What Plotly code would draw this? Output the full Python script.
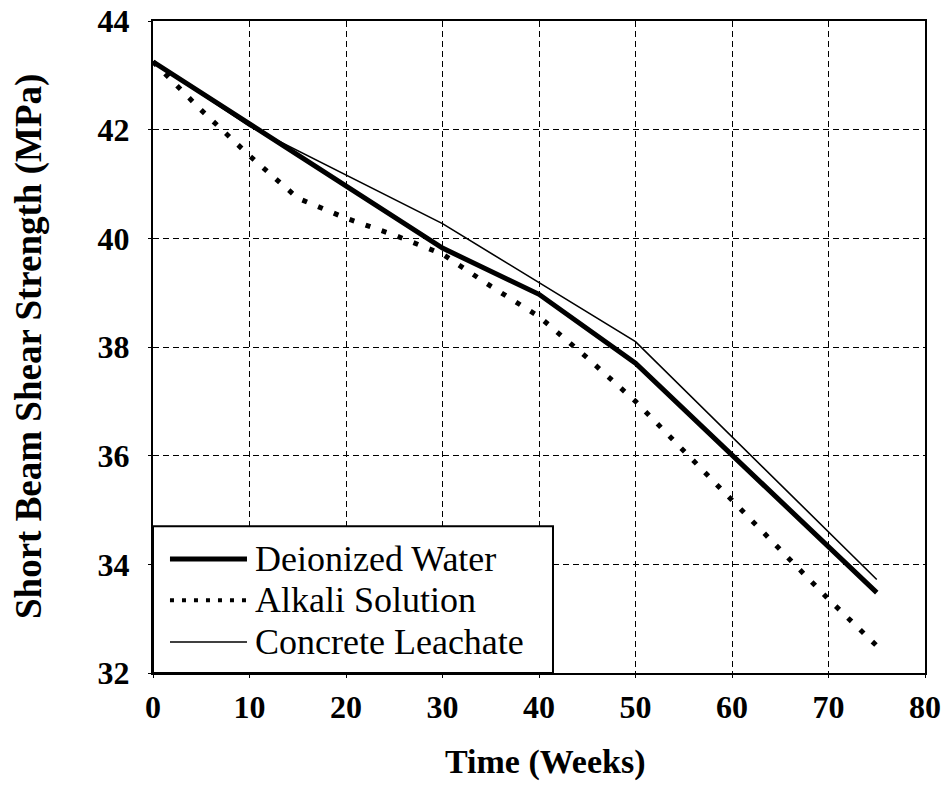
import plotly.graph_objects as go

# ---- data ----
weeks_dw = [0, 30, 40, 50, 75]
strength_dw = [43.25, 39.82, 38.97, 37.70, 33.48]

weeks_alk = [0, 5, 10, 15, 20, 25, 30, 35, 40, 45, 50, 55, 60, 65, 70, 75]
strength_alk = [43.25, 42.36, 41.52, 40.74, 40.37, 40.06, 39.71, 39.12,
                38.56, 37.80, 37.00, 36.10, 35.17, 34.27, 33.36, 32.50]

weeks_cl = [0, 10, 30, 40, 50, 75]
strength_cl = [43.25, 42.06, 40.27, 39.19, 38.10, 33.72]

series_names = ["Deionized Water", "Alkali Solution", "Concrete Leachate"]
x_ticks = [0, 10, 20, 30, 40, 50, 60, 70, 80]
y_ticks = [32, 34, 36, 38, 40, 42, 44]

SERIF = "Liberation Serif, Times New Roman, serif"

fig = go.Figure()
fig.add_trace(go.Scatter(x=weeks_dw, y=strength_dw, mode="lines", name=series_names[0],
                         line=dict(color="black", width=5), showlegend=False))
fig.add_trace(go.Scatter(x=weeks_alk, y=strength_alk, mode="lines", name=series_names[1],
                         line=dict(color="black", width=5, dash="5px,12px"), showlegend=False))
fig.add_trace(go.Scatter(x=weeks_cl, y=strength_cl, mode="lines", name=series_names[2],
                         line=dict(color="black", width=1.6), showlegend=False))

axis_common = dict(
    showgrid=True, gridcolor="black", gridwidth=1, griddash="6px,4px",
    showline=True, linecolor="black", linewidth=2, mirror=True,
    ticks="outside", ticklen=3, tickcolor="black",
    zeroline=False, automargin=False,
    tickfont=dict(family=SERIF, size=32, color="black", weight="bold"),
)

fig.update_xaxes(range=[0, 80], tickvals=x_ticks, ticktext=[str(v) for v in x_ticks],
                 ticklabelstandoff=2, **axis_common)
fig.update_yaxes(range=[32, 44], tickvals=y_ticks, ticktext=[str(v) for v in y_ticks],
                 ticklabelstandoff=12, **axis_common)

# manual legend box (bottom-left, white background over grid)
shapes = [dict(type="rect", xref="x", yref="y", x0=0, x1=41.45, y0=32, y1=34.7,
               line=dict(color="black", width=2), fillcolor="white", layer="above")]
leg_y = [34.10, 33.34, 32.57]
leg_styles = [dict(color="black", width=5),
              dict(color="black", width=4, dash="4px,8px"),
              dict(color="black", width=1.6)]
annotations = []
for name, yy, st in zip(series_names, leg_y, leg_styles):
    shapes.append(dict(type="line", xref="x", yref="y", x0=1.76, x1=9.74, y0=yy, y1=yy,
                       line=st, layer="above"))
    annotations.append(dict(xref="x", yref="y", x=10.4, y=yy, text=name, showarrow=False,
                            xanchor="left", yanchor="middle",
                            font=dict(family=SERIF, size=36, color="black")))

annotations.append(dict(xref="paper", yref="paper", x=-0.1606, y=0.5, textangle=-90,
                        text="<b>Short Beam Shear Strength (MPa)</b>", showarrow=False,
                        xanchor="center", yanchor="middle",
                        font=dict(family=SERIF, size=37, color="black")))
annotations.append(dict(xref="paper", yref="paper", x=0.508, y=-0.1365,
                        text="<b>Time (Weeks)</b>", showarrow=False,
                        xanchor="center", yanchor="middle",
                        font=dict(family=SERIF, size=34, color="black")))

fig.update_layout(
    width=945, height=786,
    margin=dict(l=153, r=20, t=21, b=113),
    paper_bgcolor="white", plot_bgcolor="white",
    shapes=shapes, annotations=annotations,
    showlegend=False,
)

fig.write_html("out.html", config={"displayModeBar": False},
               post_script="document.body.style.margin='0';document.body.style.overflow='hidden';")
